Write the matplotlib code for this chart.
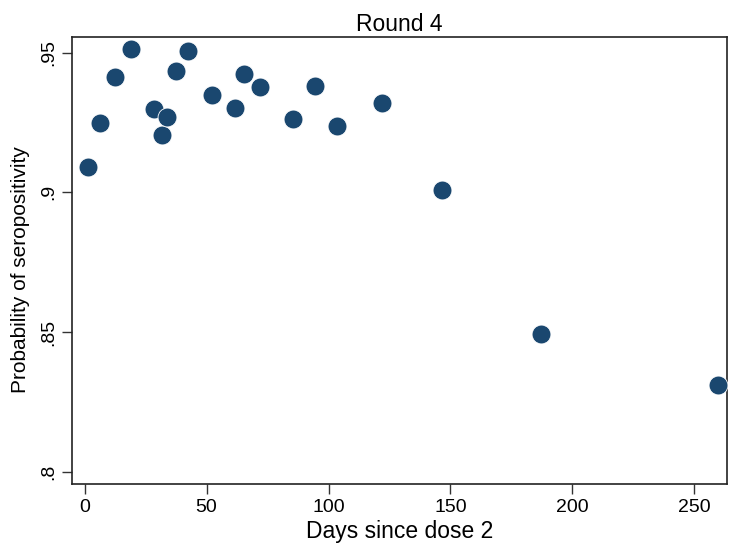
import numpy as np
import matplotlib.pyplot as plt

plt.rcParams['font.family'] = ['Liberation Sans', 'DejaVu Sans']

# days since dose 2 and estimated probability of seropositivity
days = [1.3, 6.5, 12.5, 19.1, 28.3, 31.6, 33.9, 37.4, 42.4, 52.1,
        61.5, 65.5, 71.9, 85.6, 94.5, 103.4, 121.9, 146.5, 187.2, 259.5]
prob = [0.9091, 0.9249, 0.9414, 0.9511, 0.9297, 0.9204, 0.9270, 0.9434,
        0.9504, 0.9348, 0.9302, 0.9425, 0.9377, 0.9264, 0.9382, 0.9236,
        0.9319, 0.9008, 0.8494, 0.8312]

xticks = [0, 50, 100, 150, 200, 250]
yticks = [0.8, 0.85, 0.9, 0.95]
ylabels = ['.8', '.85', '.9', '.95']

fig = plt.figure(figsize=(7.29, 5.5), dpi=100)
ax = fig.add_axes([0.099, 0.12, 0.898, 0.813])

ax.scatter(days, prob, s=185, color='#1a476f', edgecolors='white',
           linewidths=0.6, zorder=3)

ax.set_xlim(-5.1, 263.3)
ax.set_ylim(0.7958, 0.9556)
ax.set_xticks(xticks)
ax.set_yticks(yticks)
ax.set_yticklabels(ylabels, rotation=90, va='center')
ax.tick_params(labelsize=14, length=7, width=1, color='#333333')
ax.tick_params(axis='y', pad=4)

for s in ax.spines.values():
    s.set_linewidth(1.2)
    s.set_color('#222222')

ax.set_xlabel('Days since dose 2', fontsize=16.5, labelpad=3)
ax.set_ylabel('Probability of seropositivity', fontsize=15)
ax.yaxis.set_label_coords(-0.065, 0.48)
ax.set_title('Round 4', fontsize=16.5, pad=4)

fig.savefig('out.png', dpi=100, facecolor='white')
